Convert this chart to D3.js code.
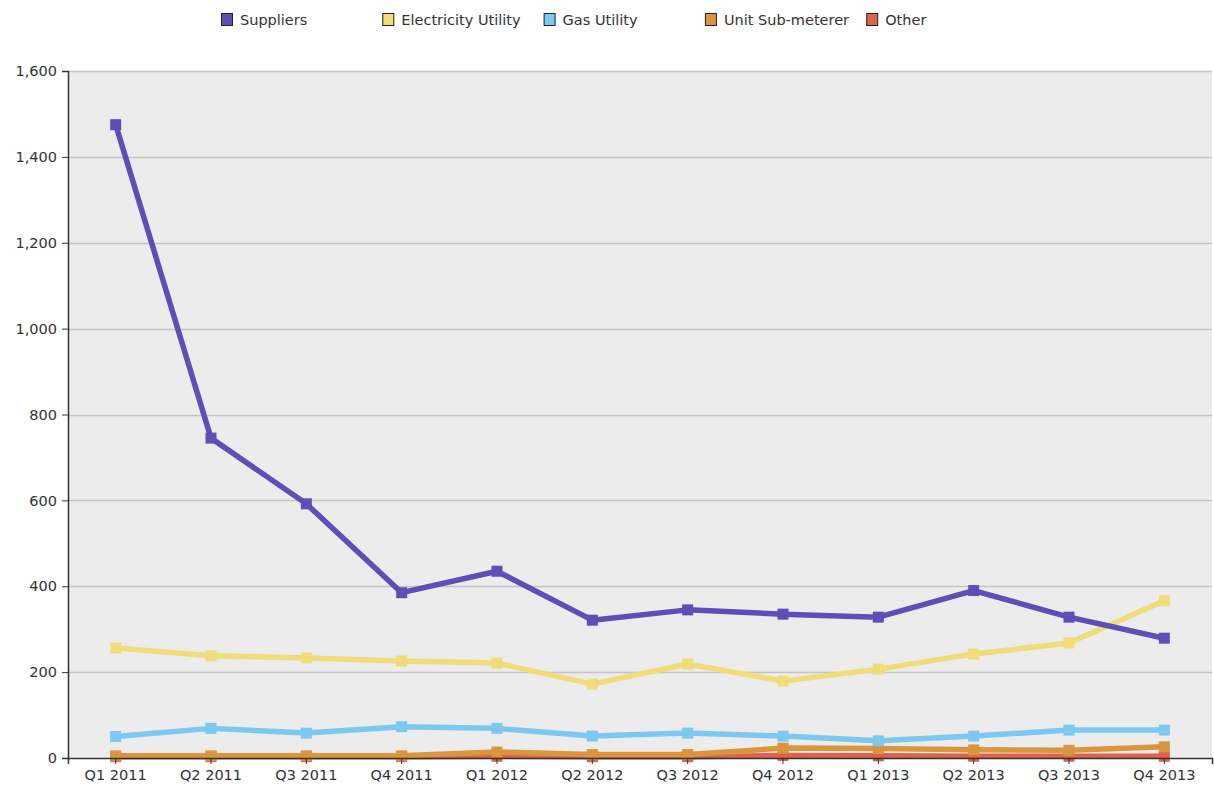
<!DOCTYPE html>
<html>
<head>
<meta charset="utf-8">
<script src="https://cdn.jsdelivr.net/npm/d3@7"></script>
<style>
  body { margin: 0; background: #fff; }
  text { font-family: "DejaVu Sans", Verdana, sans-serif; fill: #333; }
</style>
</head>
<body>
<svg width="1214" height="791"></svg>
<script>
const quarters = ["Q1 2011", "Q2 2011", "Q3 2011", "Q4 2011", "Q1 2012", "Q2 2012",
  "Q3 2012", "Q4 2012", "Q1 2013", "Q2 2013", "Q3 2013", "Q4 2013"]

const seriesNames = ["Suppliers", "Electricity Utility", "Gas Utility", "Unit Sub-meterer", "Other"]
const seriesColors = ["#5f4db8", "#f0dc78", "#7cc8f0", "#d9963f", "#e0624a"]

const suppliers = [1475, 745, 592, 385, 435, 321, 345, 335, 328, 390, 328, 279]
const electricity = [256, 238, 233, 226, 221, 172, 219, 179, 207, 242, 268, 366]
const gas = [50, 69, 58, 73, 69, 51, 58, 51, 40, 51, 65, 65]
const subMeterer = [5, 5, 5, 5, 14, 8, 8, 23, 22, 19, 18, 26]
const other = [3, 3, 3, 3, 4, 3, 3, 6, 5, 4, 4, 4]

const yTicks = [0, 200, 400, 600, 800, 1000, 1200, 1400, 1600]

const series = [suppliers, electricity, gas, subMeterer, other]
    .map((values, i) => ({ name: seriesNames[i], color: seriesColors[i], values }))

const svg = d3.select("svg")
const margin = { top: 71, right: 2, bottom: 33, left: 68 }
const width = 1214 - margin.left - margin.right
const height = 791 - margin.top - margin.bottom

const x = d3.scaleBand().domain(quarters).range([0, width])
const y = d3.scaleLinear().domain([0, 1600]).range([height, 0])

const g = svg.append("g").attr("transform", `translate(${margin.left},${margin.top})`)

g.append("rect")
    .attr("width", width)
    .attr("height", height)
    .attr("fill", "#ececec")

// gridlines
g.append("g")
    .selectAll("line")
    .data(yTicks.filter(d => d > 0))
    .enter().append("line")
    .attr("x1", 0)
    .attr("x2", width)
    .attr("y1", d => Math.round(y(d)) + 0.5)
    .attr("y2", d => Math.round(y(d)) + 0.5)
    .attr("stroke", "#c4c4c4")
    .attr("stroke-width", 1.5)

const line = d3.line()
    .x((d, i) => x(quarters[i]) + x.bandwidth() / 2)
    .y(d => y(d))

// draw bottom series first so Suppliers is on top
const drawOrder = series.slice().reverse()

const lines = g.append("g")
    .selectAll("g")
    .data(drawOrder)
    .enter().append("g")

lines.append("path")
    .attr("d", d => line(d.values))
    .attr("fill", "none")
    .attr("stroke", d => d.color)
    .attr("stroke-width", 5.5)
    .attr("stroke-linejoin", "round")

lines.selectAll("rect")
    .data(d => d.values.map((v, i) => ({ v, i, color: d.color })))
    .enter().append("rect")
    .attr("x", d => x(quarters[d.i]) + x.bandwidth() / 2 - 5.5)
    .attr("y", d => y(d.v) - 5.5)
    .attr("width", 11)
    .attr("height", 11)
    .attr("fill", d => d.color)

// axes
const yAxis = g.append("g")
    .call(d3.axisLeft(y).tickValues(yTicks).tickSize(6).tickPadding(5).tickFormat(d3.format(",")))
yAxis.select(".domain").attr("stroke", "#333").attr("stroke-width", 1.5)
yAxis.selectAll(".tick line").attr("stroke", "#333")
yAxis.selectAll("text").style("font-size", "14.5px").attr("fill", "#333")

const xAxis = g.append("g")
    .attr("transform", `translate(0,${height})`)
    .call(d3.axisBottom(x).tickSize(6).tickPadding(6))
xAxis.select(".domain").attr("stroke", "#333").attr("stroke-width", 1.5)
xAxis.selectAll(".tick line").attr("stroke", "#333")
xAxis.selectAll("text").style("font-size", "14.5px").attr("fill", "#333")

// legend
const legend = svg.append("g")
    .selectAll("g")
    .data(series)
    .enter().append("g")
    .attr("transform", (d, i) => `translate(${221 + i * 161.3},13)`)

legend.append("rect")
    .attr("x", 0.5)
    .attr("y", 0.5)
    .attr("width", 11)
    .attr("height", 12)
    .attr("fill", d => d.color)
    .attr("stroke", "#222")

legend.append("text")
    .attr("x", 19)
    .attr("y", 12)
    .style("font-size", "14.5px")
    .text(d => d.name)
</script>
</body>
</html>
